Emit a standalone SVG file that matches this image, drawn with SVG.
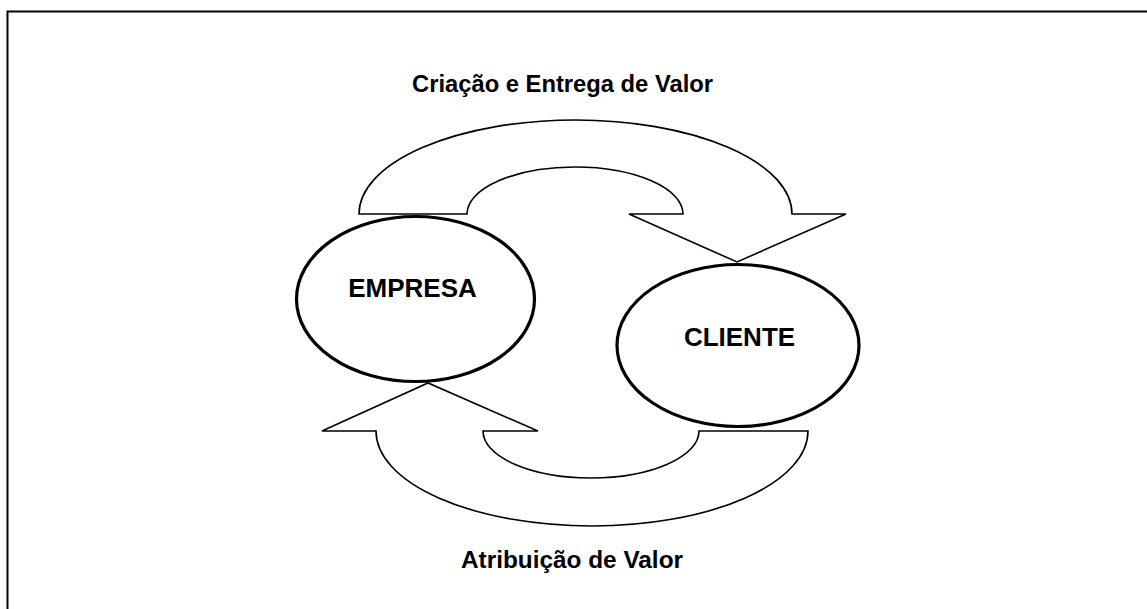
<svg xmlns="http://www.w3.org/2000/svg" width="1147" height="609" viewBox="0 0 1147 609">
<style>
.lbl{font-family:"Liberation Sans",Arial,sans-serif;font-weight:bold;fill:#000;text-anchor:middle}
.arrow{fill:#fff;stroke:#000;stroke-width:1.6;stroke-linejoin:miter}
.node{fill:#fff;stroke:#000;stroke-width:3.2}
</style>
<rect width="1147" height="609" fill="#fff"/>
<rect x="7.5" y="11.5" width="1300" height="800" fill="none" stroke="#000" stroke-width="2"/>
<text class="lbl" x="562.5" y="92" font-size="23" textLength="301" lengthAdjust="spacingAndGlyphs">Criação e Entrega de Valor</text>
<g id="connectors">
<path id="arrow-top" class="arrow" d="M359,214 A216.5,94 0 0 1 792,214 L846,214 L737,262 L629,214 L683,214 A108,47 0 0 0 467,214 Z"/>
<path id="arrow-bottom" class="arrow" d="M376,431 A216,95 0 0 0 808,431 L699,431 A108,47 0 0 1 483,431 L538,431 L428,383 L322,431 Z"/>
</g>
<g id="empresa">
<ellipse class="node" cx="415.5" cy="299" rx="119" ry="82.5"/>
<text class="lbl" x="412.5" y="297" font-size="26">EMPRESA</text>
</g>
<g id="cliente">
<ellipse class="node" cx="738" cy="345.5" rx="121" ry="81"/>
<text class="lbl" x="739.5" y="346" font-size="26">CLIENTE</text>
</g>
<text class="lbl" x="572" y="568" font-size="23" textLength="222" lengthAdjust="spacingAndGlyphs">Atribuição de Valor</text>
</svg>
